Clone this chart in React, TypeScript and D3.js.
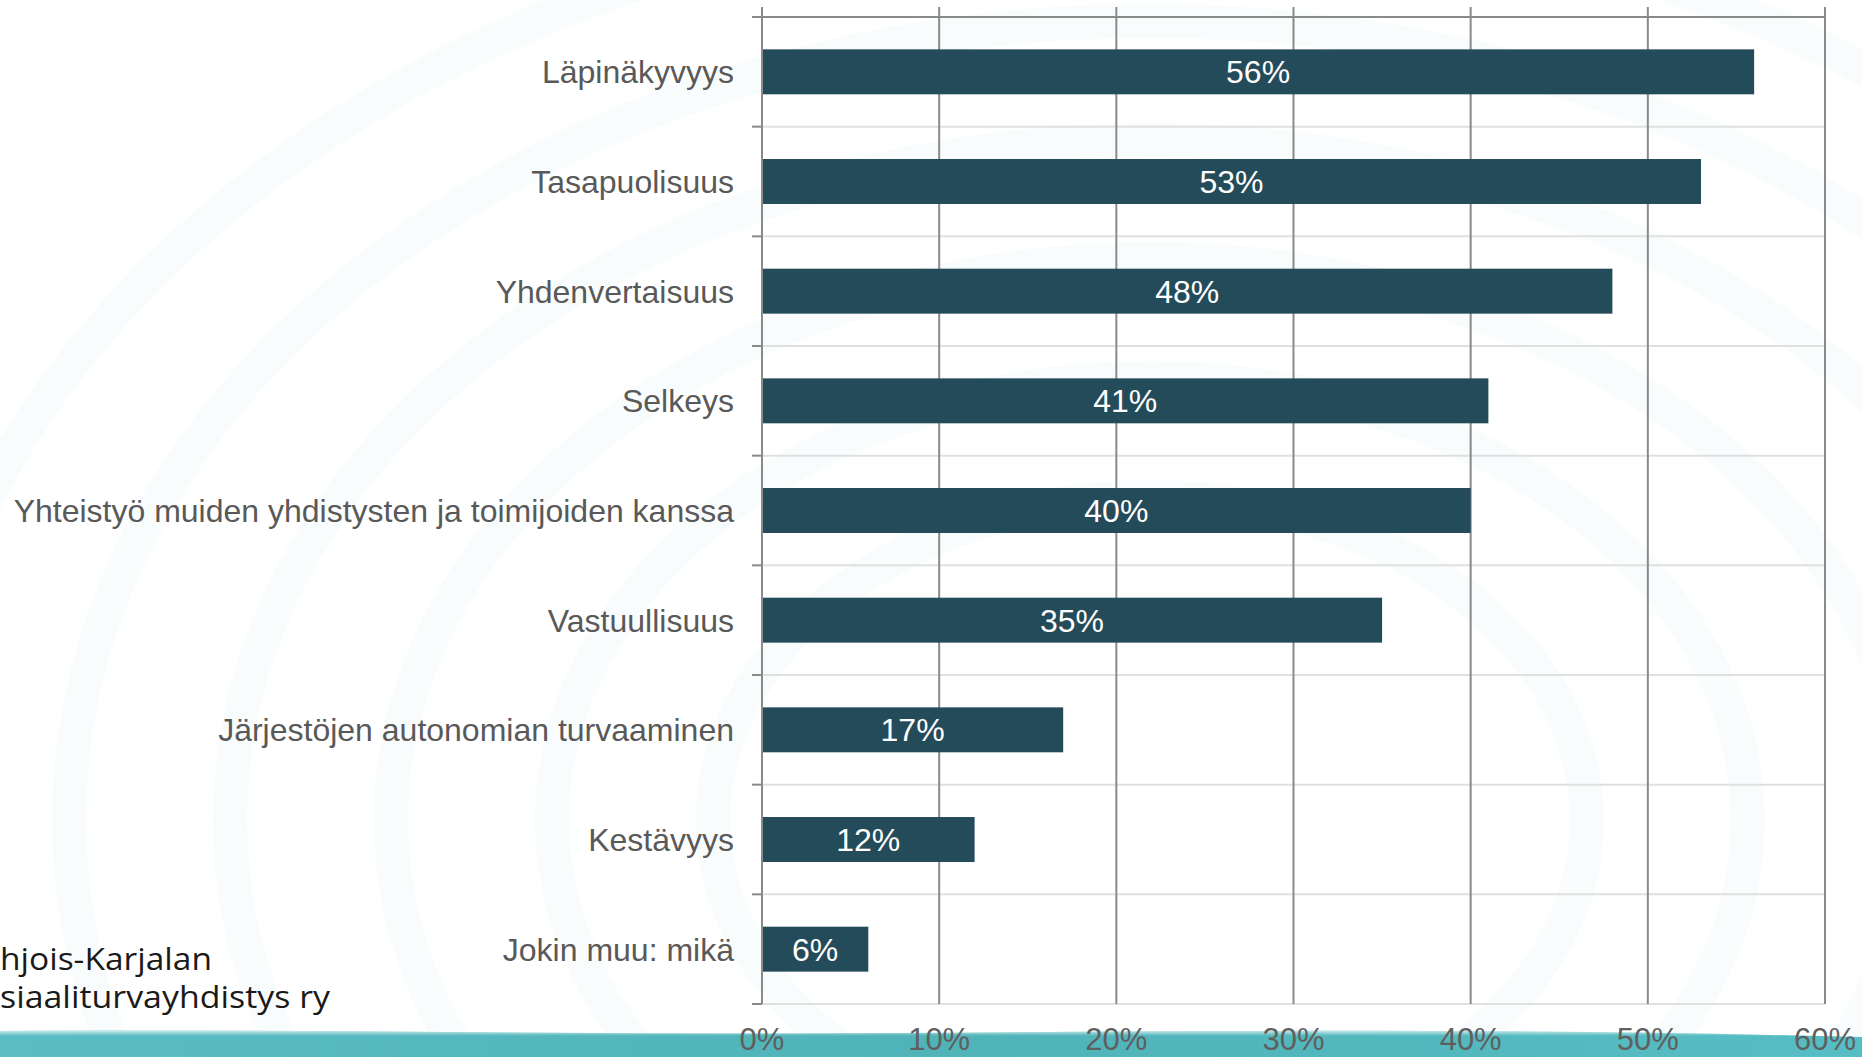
import React, { useEffect } from "react"
import * as d3 from "d3"

const categories = [
  "Läpinäkyvyys",
  "Tasapuolisuus",
  "Yhdenvertaisuus",
  "Selkeys",
  "Yhteistyö muiden yhdistysten ja toimijoiden kanssa",
  "Vastuullisuus",
  "Järjestöjen autonomian turvaaminen",
  "Kestävyys",
  "Jokin muu: mikä",
]
const values = [0.56, 0.53, 0.48, 0.41, 0.4, 0.35, 0.17, 0.12, 0.06]
const xTicks = [0, 0.1, 0.2, 0.3, 0.4, 0.5, 0.6]
const logoLines = ["hjois-Karjalan", "siaaliturvayhdistys ry"]
const rippleRadii = [380, 520, 660, 800, 940, 1080]

const W = 1862
const H = 1057
const FONT = "'Liberation Sans', Arial, sans-serif"

const App: React.FC = () => {
  useEffect(() => {
    document.body.style.margin = "0"
  }, [])

  const x = d3.scaleLinear().domain([0, 0.6]).range([762, 1825])
  const y = d3
    .scaleBand<string>()
    .domain(categories)
    .range([17, 1004])
    .paddingInner(0.59)
    .paddingOuter(0.295)
  const step = y.step()
  const top = 17
  const bottom = 1004
  const pct = d3.format(".0%")

  // band boundaries
  const boundaries = d3.range(categories.length + 1).map((i) => top + i * step)

  const wave = `M0,1031 C300,1029 600,1035 900,1033 C1200,1031 1500,1028 1862,1037 L1862,${H} L0,${H} Z`

  return (
    <svg width={W} height={H} style={{ display: "block", position: "fixed", left: 0, top: 0 }}>
      <defs>
        <linearGradient id="teal" x1="0" y1="0" x2="1" y2="0">
          <stop offset="0" stopColor="#5bbdc3" />
          <stop offset="0.5" stopColor="#4fb3b8" />
          <stop offset="1" stopColor="#57bdc4" />
        </linearGradient>
        <linearGradient id="tealTop" x1="0" y1="0" x2="0" y2="1">
          <stop offset="0" stopColor="#ffffff" stopOpacity="0.7" />
          <stop offset="0.2" stopColor="#ffffff" stopOpacity="0" />
        </linearGradient>
      </defs>
      <rect width={W} height={H} fill="#ffffff" />
      <g fill="none" stroke="#e6f3f4" strokeOpacity={0.25}>
        {rippleRadii.map((r, i) => (
          <ellipse key={i} cx={1150} cy={820} rx={r * 1.15} ry={r * 0.85} strokeWidth={34} />
        ))}
      </g>
      <path d={wave} fill="url(#teal)" />
      <path d={wave} fill="url(#tealTop)" />

      {/* band lines */}
      {boundaries.map((b, i) => (
        <g key={i}>
          <line
            x1={x(0)}
            x2={x(0.6)}
            y1={b}
            y2={b}
            stroke={i === 0 ? "#8a8a8a" : "#e0e0e0"}
            strokeWidth={2}
          />
          <line x1={752} x2={x(0)} y1={b} y2={b} stroke="#8a8a8a" strokeWidth={2} />
        </g>
      ))}

      {/* vertical grid */}
      {xTicks.map((t) => (
        <line key={t} x1={x(t)} x2={x(t)} y1={7} y2={bottom} stroke="#8a8a8a" strokeWidth={2} />
      ))}

      {/* bars */}
      {categories.map((c, i) => (
        <g key={c}>
          <rect
            x={x(0) + 1}
            y={y(c)!}
            width={x(values[i]) - x(0) - 1}
            height={y.bandwidth()}
            fill="#244b5a"
          />
          <text
            x={(x(0) + x(values[i])) / 2}
            y={y(c)! + y.bandwidth() / 2}
            dy="0.36em"
            textAnchor="middle"
            fill="#ffffff"
            fontFamily={FONT}
            fontSize={32}
          >
            {pct(values[i])}
          </text>
          <text
            x={734}
            y={y(c)! + y.bandwidth() / 2}
            dy="0.36em"
            textAnchor="end"
            fill="#595959"
            fontFamily={FONT}
            fontSize={32}
          >
            {c}
          </text>
        </g>
      ))}

      {/* x tick labels */}
      {xTicks.map((t) => (
        <text
          key={t}
          x={x(t)}
          y={1050}
          textAnchor="middle"
          fill="#5f5f5f"
          fontFamily={FONT}
          fontSize={31}
        >
          {pct(t)}
        </text>
      ))}

      {/* logo text */}
      <g fontFamily="'Open Sans', 'Noto Sans', sans-serif" fontSize={31} fill="#1a1a1a">
        <text x={0} y={970} textLength={212} lengthAdjust="spacingAndGlyphs">
          {logoLines[0]}
        </text>
        <text x={0} y={1008} textLength={330} lengthAdjust="spacingAndGlyphs">
          {logoLines[1]}
        </text>
      </g>
    </svg>
  )
}

export default App
